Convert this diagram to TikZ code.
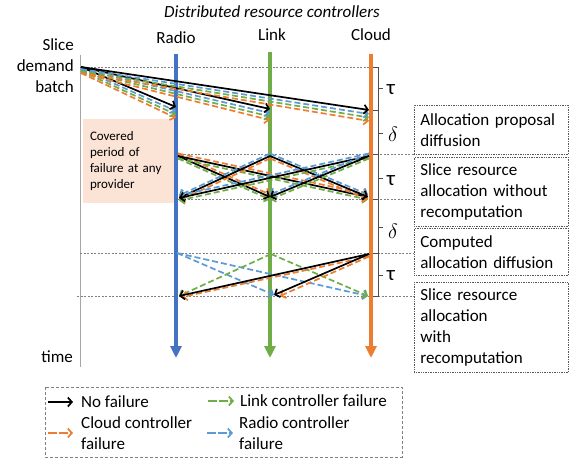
\documentclass[tikz,border=0pt]{standalone}
\usepackage{fontspec}
\setmainfont{Carlito}
\usetikzlibrary{arrows.meta,calc}
\definecolor{cblue}{HTML}{4472C4}
\definecolor{lblue}{HTML}{5B9BD5}
\definecolor{cgreen}{HTML}{70AD47}
\definecolor{corange}{HTML}{ED7D31}
\definecolor{shade}{HTML}{FBE3D5}
\begin{document}
\begin{tikzpicture}[x=1pt,y=-1pt,
  every node/.style={font=\fontsize{17}{21}\selectfont, inner sep=0pt},
  lane/.style={line width=4pt,-{Triangle[length=12pt,width=11pt]}},
  msg/.style={line width=1.7pt,-{Straight Barb[length=4pt,width=9pt]}},
  dmsg/.style={msg, dash pattern=on 6pt off 3pt},
  lmsg/.style={line width=1.7pt,-{Straight Barb[length=4pt,width=9pt]}, dash pattern=on 9pt off 2pt},
  hline/.style={gray, line width=0.7pt, dash pattern=on 2pt off 1.5pt},
  brack/.style={gray!60!black, line width=0.7pt},
  rbox/.style={draw=gray!70!black, densely dotted, line width=0.7pt, anchor=north west,
     text width=142pt, inner xsep=6pt, inner ysep=0pt, align=left},
  greek/.style={font=\fontsize{21}{24}\selectfont}
]
\useasboundingbox (0,0) rectangle (576,458);

% title and lane labels
\node (title) at (272,12) {\itshape Distributed resource controllers};
\node (radio) at (176,38) {Radio};
\node (link) at (272,35) {Link};
\node (cloud) at (371,35) {Cloud};
\node[anchor=east, align=right] (batch) at (74,66) {Slice\\demand\\batch};
\node[anchor=east] (time) at (73,357) {time};

% covered period box
\node[fill=shade, minimum width=91pt, minimum height=84pt, text width=77pt,
      inner xsep=7pt, align=left, font=\fontsize{13}{16}\selectfont] (cover) at (128.5,161)
      {Covered\\period of\\failure at any\\provider};

% time axis
\draw[gray!70, line width=0.8pt] (80,55) -- (80,367);

% horizontal dashed lines
\draw[hline] (80,67) -- (376,67);
\draw[hline] (177,154) -- (414,154);
\draw[hline] (177,199) -- (414,199);
\draw[hline] (80,253) -- (414,253);
\draw[hline] (77,296) -- (414,296);

% brackets
\foreach \t/\m/\b in {67/88/110, 110/133/154, 154/178/199, 199/227/253, 253/275/296}{
  \draw[brack] (373,\t) -- (378,\t) -- (378,\b) -- (373,\b);
  \draw[brack] (378,\m) -- (383,\m);
}
\node[greek] (t1) at (391,90) {τ};
\node[greek] (d1) at (393,134) {$\delta$};
\node[greek] (t2) at (391,181) {τ};
\node[greek] (d2) at (393,231) {$\delta$};
\node[greek] (t3) at (391,276) {τ};

% lanes
\draw[lane,cblue] (176,54) -- (176,358);
\draw[lane,cgreen] (270,52) -- (270,358);
\draw[lane,corange] (371,54) -- (371,358);

% coordinates
\coordinate (src) at (81,67);
\coordinate (R1e) at (176,107);
\coordinate (L1e) at (270,109);
\coordinate (C1e) at (369,110);
\coordinate (R2) at (178,156);
\coordinate (L2) at (270,156);
\coordinate (C2) at (369,156);
\coordinate (R2e) at (179,198);
\coordinate (L2e) at (270,197);
\coordinate (C2e) at (368,197);
\coordinate (R3) at (177,253);
\coordinate (L3) at (271,254);
\coordinate (C3) at (369,254);
\coordinate (R3e) at (179,296);
\coordinate (L3e) at (274,295);
\coordinate (C3e) at (368,296);

% phase 1: allocation proposal diffusion
\foreach \d in {R1e,L1e,C1e}{
  \draw[dmsg,corange] ([yshift=-6pt]src) -- ([yshift=-11pt]\d);
  \draw[dmsg,cgreen] ([yshift=-4pt]src) -- ([yshift=-7.5pt]\d);
  \draw[dmsg,lblue] ([yshift=-2pt]src) -- ([yshift=-4pt]\d);
  \draw[msg,black] (src) -- (\d);
}

% phase 2: allocation without recomputation
\foreach \s/\d/\ca/\cb in {R2/L2e/corange/cgreen, R2/C2e/corange/cgreen,
                           L2/R2e/lblue/corange, L2/C2e/lblue/corange,
                           C2/R2e/lblue/cgreen, C2/L2e/lblue/cgreen}{
  \draw[dmsg,\ca] ([yshift=2.5pt]\s) -- ([yshift=2.5pt]\d);
  \draw[dmsg,\cb] ([yshift=-2.5pt]\s) -- ([yshift=-2.5pt]\d);
  \draw[msg,black] (\s) -- (\d);
}

% phase 3: allocation with recomputation
\draw[dmsg,lblue] (R3) -- (L3e);
\draw[dmsg,lblue] (R3) -- (C3e);
\draw[dmsg,cgreen] (L3) -- (R3e);
\draw[dmsg,cgreen] (L3) -- (C3e);
\draw[dmsg,corange] ([yshift=-2.5pt]C3) -- ([xshift=3pt,yshift=-1pt]R3e);
\draw[dmsg,corange] ([yshift=-2.5pt]C3) -- ([xshift=6pt,yshift=-1pt]L3e);
\draw[msg,black] (C3) -- (R3e);
\draw[msg,black] (C3) -- (L3e);

% right-hand phase boxes
\node[rbox, minimum height=49pt] (b1) at (414,105) {Allocation proposal\\diffusion};
\node[rbox, minimum height=69pt] (b2) at (414,157) {Slice resource\\allocation without\\recomputation};
\node[rbox, minimum height=47pt] (b3) at (414,228) {Computed\\allocation diffusion};
\node[rbox, minimum height=90pt] (b4) at (414,282) {Slice resource\\allocation\\with\\recomputation};

% legend
\draw[gray, line width=0.7pt, dash pattern=on 3pt off 2pt] (45,387) rectangle (402,457);
\coordinate (k1a) at (48,402); \coordinate (k1b) at (73,402);
\coordinate (k2a) at (48,433); \coordinate (k2b) at (73,433);
\coordinate (k3a) at (208,401); \coordinate (k3b) at (234,401);
\coordinate (k4a) at (207,433); \coordinate (k4b) at (233,433);
\draw[msg,black] (k1a) -- (k1b);
\draw[lmsg,corange] (k2a) -- (k2b);
\draw[lmsg,cgreen] (k3a) -- (k3b);
\draw[lmsg,lblue] (k4a) -- (k4b);
\node[anchor=west] (l1) at (81,402) {No failure};
\node[anchor=west, align=left] (l2) at (81,433) {Cloud controller\\failure};
\node[anchor=west] (l3) at (240,401) {Link controller failure};
\node[anchor=west, align=left] (l4) at (239,433) {Radio controller\\failure};
\end{tikzpicture}
\end{document}
